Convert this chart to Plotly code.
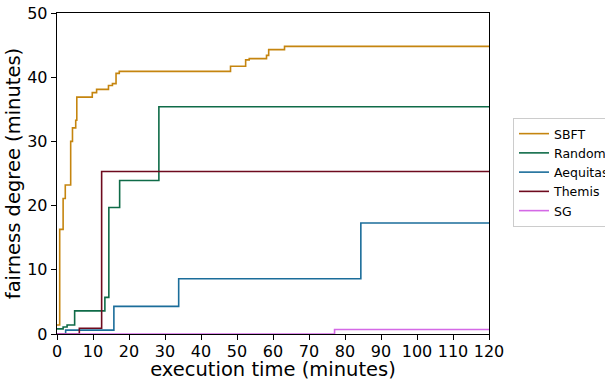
import plotly.graph_objects as go

# ---- data (minutes) ----
sbft_t = [0, 0.75, 1.7, 2.3, 3.8, 4.3, 5.2, 5.5, 9.8, 11.0, 14.3, 15.4, 16.4, 17.3, 48.2, 52.4, 53.4, 58.2, 58.8, 63.2, 120]
sbft_v = [1.4, 16.3, 21.1, 23.2, 30.0, 32.1, 33.3, 36.9, 37.6, 38.1, 38.7, 39.0, 40.6, 40.9, 41.7, 42.7, 42.9, 43.4, 44.3, 44.8, 44.8]

random_t = [0, 1.7, 2.8, 4.9, 13.3, 14.4, 17.4, 28.3, 120]
random_v = [0.8, 1.1, 1.4, 3.6, 5.7, 19.7, 23.9, 35.4, 35.4]

aequitas_t = [0, 2.4, 15.8, 33.8, 84.4, 120]
aequitas_v = [0, 0.6, 4.3, 8.6, 17.3, 17.3]

themis_t = [0, 6.2, 12.4, 120]
themis_v = [0, 0.9, 25.3, 25.3]

sg_t = [0, 77.1, 120]
sg_v = [0, 0.7, 0.7]

series_names = ["SBFT", "Random", "Aequitas", "Themis", "SG"]
series_colors = ["#c5850f", "#0f6b48", "#1b6d9a", "#6e0a1e", "#d469e6"]
x_ticks = [0, 10, 20, 30, 40, 50, 60, 70, 80, 90, 100, 110, 120]
y_ticks = [0, 10, 20, 30, 40, 50]

series = [(sbft_t, sbft_v), (random_t, random_v), (aequitas_t, aequitas_v),
          (themis_t, themis_v), (sg_t, sg_v)]

fig = go.Figure()
for (t, v), name, col in zip(series, series_names, series_colors):
    fig.add_trace(go.Scatter(x=t, y=v, mode="lines", name=name,
                             line=dict(color=col, width=1.6, shape="hv")))

W, H = 605, 381
L, R, T, B = 57, 116, 13, 47
PW, PH = W - L - R, H - T - B

axis_common = dict(showgrid=False, zeroline=False, showline=True, linecolor="black",
                   linewidth=1.3, mirror=True, ticks="outside", ticklen=5,
                   tickwidth=1, tickcolor="black", layer="below traces",
                   tickfont=dict(family="DejaVu Sans", size=16, color="black"))

fig.update_layout(
    width=W, height=H,
    margin=dict(l=L, r=R, t=T, b=B, autoexpand=False),
    paper_bgcolor="white", plot_bgcolor="white",
    font=dict(family="DejaVu Sans", color="black"),
    xaxis=dict(range=[0, 120], tickvals=x_ticks, ticklabelstandoff=-3,
               title=dict(text="execution time (minutes)",
                          font=dict(family="DejaVu Sans", size=19.5, color="black"),
                          standoff=4),
               **axis_common),
    yaxis=dict(range=[0, 50], tickvals=y_ticks,
               title=dict(text="fairness degree (minutes)",
                          font=dict(family="DejaVu Sans", size=19.5, color="black"),
                          standoff=1),
               **axis_common),
    legend=dict(x=(513 - L) / PW, y=(H - B - 118) / PH,
                xanchor="left", yanchor="top",
                bgcolor="white", bordercolor="#cccccc", borderwidth=1,
                font=dict(family="DejaVu Sans", size=12.5, color="black"),
                tracegroupgap=0),
    showlegend=True,
)

fig.write_html(
    "out.html",
    config={"displayModeBar": False, "staticPlot": True},
    post_script="document.body.style.margin='0';document.body.style.overflow='hidden';",
)
